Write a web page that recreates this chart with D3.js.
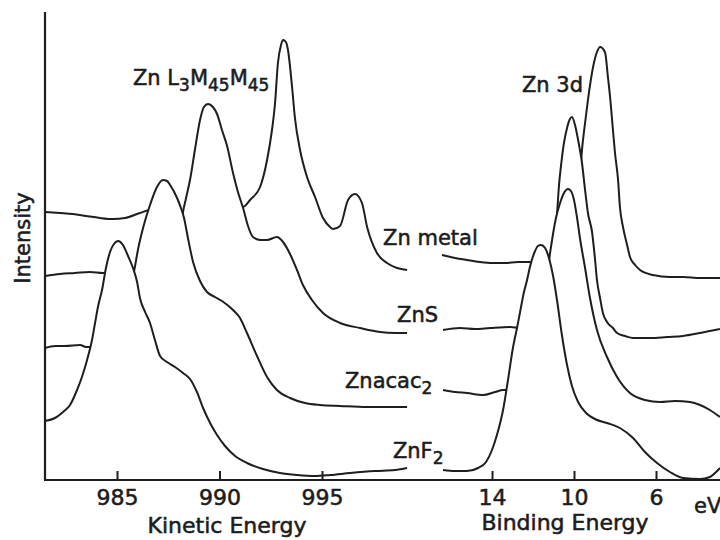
<!DOCTYPE html>
<html>
<head>
<meta charset="utf-8">
<script src="https://cdn.jsdelivr.net/npm/d3@7"></script>
<style>
  body { margin: 0; background: #fff; }
  svg { display: block; }
  text { font-family: "DejaVu Sans", "Liberation Sans", sans-serif; fill: #1c1c1c;
         stroke: #1c1c1c; stroke-width: 0.55px; }
</style>
</head>
<body>
<svg id="chart" width="720" height="540"></svg>
<script>
// Zn L3M45M45 Auger spectra (kinetic energy, eV) and Zn 3d photoelectron spectra
// (binding energy, eV) for four zinc compounds, stacked with vertical offsets.
const kineticTicks = [985, 990, 995];
const bindingTicks = [14, 10, 6];
const sampleNames = ["Zn metal", "ZnS", "Znacac2", "ZnF2"];

// [kinetic energy, intensity]
const kineticZnMetal = [
  [981.49,67],[982.22,66.75],[982.85,66.5],[983.49,66],[984.17,65.5],[984.80,65.25],[985.39,65.5],
  [986.12,66.75],[986.61,67.5],[987.10,67.25],[988.07,66.75],[989.05,67],[990.27,67.5],[991.00,68],
  [991.24,68.5],[991.49,70],[991.98,73.25],[992.32,80],[992.56,87.5],[992.71,94.25],[992.85,104.25],
  [993.00,108.75],[993.10,110],[993.24,109.5],[993.34,107.5],[993.54,98.25],[993.68,90.5],[993.93,82.5],
  [994.27,75.75],[994.66,70.75],[995.05,65.5],[995.39,63.25],[995.54,62.75],[995.88,63.5],[996.27,70],
  [996.61,71.5],[996.95,69.25],[997.20,63.25],[997.68,56.75],[998.17,54.25],[998.66,53],[999.15,52.5]
];
const kineticZnS = [
  [981.49,51],[982.22,51.5],[982.95,51.75],[983.68,52],[984.32,51.75],[985.15,51.75],[986.12,51.5],
  [987.10,51.5],[987.59,53],[987.88,56.25],[988.07,61.25],[988.22,67],[988.37,70.5],[988.56,75],
  [988.80,82.5],[989.05,90],[989.24,93.25],[989.44,94],[989.68,93.25],[989.88,91.5],[990.12,87.5],
  [990.37,83.5],[990.66,76.75],[990.90,72],[991.15,68],[991.39,63.5],[991.63,60.75],[991.98,60],
  [992.32,60],[992.80,60.75],[993.10,59.5],[993.44,56.5],[993.78,52.5],[994.07,48.75],[994.51,45],
  [995.05,41.75],[995.88,39.25],[996.85,38],[997.83,37],[998.56,36.75],[999.15,36.75]
];
const kineticZnacac2 = [
  [981.49,33],[981.98,33.5],[982.46,33.5],[983.20,33.75],[983.49,33.25],[983.93,33.25],[984.41,34.25],
  [984.90,36.25],[985.39,41.25],[985.63,45.5],[985.78,50.75],[985.88,53.5],[986.02,57.5],[986.27,63],
  [986.61,68.75],[986.95,73.25],[987.24,75],[987.44,74.75],[987.59,73.75],[987.93,70.5],[988.12,68],
  [988.27,65.5],[988.46,60.5],[988.71,54.5],[989.05,49.75],[989.39,47],[989.78,45.75],[990.12,44.75],
  [990.66,42.5],[991.00,40.5],[991.34,36.75],[991.83,31],[992.32,25.75],[992.80,22.5],[993.44,20.5],
  [994.17,19.25],[994.90,18.75],[995.88,18.5],[997.20,18.25],[998.32,18.25],[999.15,18.25]
];
const kineticZnF2 = [
  [981.49,14.75],[981.98,15.5],[982.37,17],[982.71,18.75],[983.05,22.5],[983.29,25.75],[983.54,30],
  [983.78,35],[983.93,39.25],[984.07,43.25],[984.27,47.5],[984.46,53],[984.66,57],[984.85,59],
  [985.05,59.75],[985.29,58.75],[985.54,56],[985.78,53],[985.98,49.5],[986.12,45.5],[986.37,42],
  [986.61,39.25],[986.85,35],[987.10,31],[987.44,29.5],[987.83,28.25],[988.22,26.75],[988.56,25.25],
  [988.90,22],[989.20,18],[989.54,14.25],[989.88,11.25],[990.27,8.5],[990.76,6],[991.34,4.25],
  [992.12,2.75],[992.95,1.75],[993.78,1.25],[994.66,1],[995.39,1.25],[996.37,1.75],[997.59,2.25],
  [998.56,2.5],[999.15,3]
];

// [binding energy, intensity]
const bindingZnMetal = [
  [16.44,56.25],[15.80,55.5],[15.22,55],[14.59,54.5],[13.95,54.25],[13.37,54.25],[12.73,54.5],
  [12.24,54.5],[11.66,54.5],[11.07,54.75],[10.59,55.25],[10.20,57],[9.90,63],[9.76,71.25],[9.61,82.5],
  [9.46,89.25],[9.32,95],[9.07,103.25],[8.88,107],[8.73,108.25],[8.49,107],[8.34,100.5],[8.24,95.75],
  [8.10,87.5],[8.00,81.75],[7.85,75],[7.76,68.25],[7.61,63.25],[7.41,58.75],[7.27,55.75],[7.02,53.75],
  [6.78,52.5],[6.15,51.25],[5.32,50.75],[4.68,50.75],[3.85,50.5],[2.88,50.5]
];
const bindingZnS = [
  [16.39,37.5],[15.56,38],[14.83,37.75],[14.10,38],[13.12,38.25],[12.63,38],[11.90,38.25],[11.41,39.5],
  [11.17,45],[11.02,53],[10.93,58.75],[10.83,66.25],[10.73,73.75],[10.63,78.75],[10.49,84.25],
  [10.34,88],[10.20,90.25],[10.10,90.75],[9.95,88.75],[9.80,85],[9.61,79.25],[9.46,72.5],[9.32,66.75],
  [9.12,62],[8.98,55.5],[8.88,50],[8.73,45.5],[8.59,41.75],[8.39,39.5],[8.10,38],[7.90,36.75],
  [7.51,36],[7.12,35.5],[6.29,35.5],[5.46,35.75],[4.68,36],[3.85,36.75],[2.88,37.75]
];
const bindingZnacac2 = [
  [16.39,22.5],[15.80,22],[15.22,21.75],[14.44,21.25],[13.85,22],[13.46,22.5],[12.88,22.5],[12.39,23],
  [11.90,24.5],[11.61,29.5],[11.37,45],[11.22,54.5],[11.07,60],[10.88,65.5],[10.68,69.25],[10.49,71.75],
  [10.29,72.75],[10.15,72.25],[10.00,70],[9.85,65.5],[9.71,60.5],[9.46,53],[9.22,45.5],[8.88,37.5],
  [8.39,30.75],[7.90,25.75],[7.27,21.75],[6.54,20],[5.80,19.5],[5.07,19.75],[4.34,19.5],[3.85,18.75],
  [3.37,17.5],[2.88,15.75]
];
const bindingZnF2 = [
  [16.39,2.5],[15.80,2.25],[15.22,2.25],[14.68,3],[14.29,4.5],[14.00,7.5],[13.76,11.25],[13.46,17.5],
  [13.22,25],[12.98,33],[12.78,38],[12.63,42],[12.44,47],[12.29,50],[12.15,53.25],[11.90,57.25],
  [11.76,58.5],[11.61,58.75],[11.41,58],[11.17,54.5],[11.02,51],[10.83,45],[10.59,36.25],[10.34,28.75],
  [10.10,23.5],[9.80,19.5],[9.41,16.75],[8.98,15.25],[8.39,14.25],[7.76,13],[7.12,10.5],[6.54,7],
  [5.95,4.25],[5.32,2],[4.68,0.5],[3.85,0.25],[3.37,0.75],[3.07,2],[2.88,3]
];

const ink = "#1e1e1e";
const svg = d3.select("#chart");
svg.append("rect").attr("width", 720).attr("height", 540).attr("fill", "#fff");

// Both panels share one eV-per-pixel scale; binding energy runs right to left.
const xKin = d3.scaleLinear().domain([985, 995]).range([117, 322]);
const xBind = d3.scaleLinear().domain([14, 6]).range([492, 656]);
const y = d3.scaleLinear().domain([0, 117]).range([480, 12]);

function drawPanel(x, seriesList) {
  const g = svg.append("g");
  const area = d3.area().x(d => x(d[0])).y0(y(0)).y1(d => y(d[1])).curve(d3.curveMonotoneX);
  const line = d3.line().x(d => x(d[0])).y(d => y(d[1])).curve(d3.curveMonotoneX);
  // back to front: each trace hides whatever lies behind and below it
  seriesList.forEach(data => {
    g.append("path").datum(data).attr("d", area).attr("fill", "#fff");
    g.append("path").datum(data).attr("d", line)
      .attr("fill", "none").attr("stroke", ink).attr("stroke-width", 2)
      .attr("stroke-linejoin", "round");
  });
}
drawPanel(xKin, [kineticZnMetal, kineticZnS, kineticZnacac2, kineticZnF2]);
drawPanel(xBind, [bindingZnMetal, bindingZnS, bindingZnacac2, bindingZnF2]);

// Axes
svg.append("line").attr("x1", 45).attr("x2", 45).attr("y1", y(117)).attr("y2", y(0))
  .attr("stroke", ink).attr("stroke-width", 2.2);
svg.append("line").attr("x1", 44).attr("x2", 720).attr("y1", y(0)).attr("y2", y(0))
  .attr("stroke", ink).attr("stroke-width", 2.2);

function drawAxis(x, ticks) {
  const ax = svg.append("g").attr("transform", `translate(0,${y(0)})`)
    .call(d3.axisBottom(x).tickValues(ticks).tickFormat(d3.format("d"))
      .tickSizeInner(-9).tickSizeOuter(0).tickPadding(9));
  ax.select(".domain").remove();
  ax.selectAll(".tick line").attr("stroke", ink).attr("stroke-width", 2);
  ax.selectAll(".tick text").attr("font-size", 22).attr("fill", ink)
    .style("font-family", "'DejaVu Sans', sans-serif");
}
drawAxis(xKin, kineticTicks);
drawAxis(xBind, bindingTicks);

// Axis titles
const title = (txt, x, yy, size) => svg.append("text").attr("x", x).attr("y", yy)
  .attr("font-size", size).attr("text-anchor", "middle").text(txt);
title("Kinetic Energy", 227, 533, 22);
title("Binding Energy", 565, 530, 22);
svg.append("text").attr("x", 694).attr("y", 513).attr("font-size", 21).text("eV");
svg.append("text").attr("transform", "translate(30,238) rotate(-90)")
  .attr("font-size", 21).attr("text-anchor", "middle").text("Intensity");

// Spectrum labels, placed in data coordinates of each panel
function label(x, e, i, parts) {
  const t = svg.append("text").attr("x", x(e)).attr("y", y(i)).attr("font-size", 21);
  let shift = 0;
  parts.forEach(([s, sub]) => {
    const target = sub ? 6 : 0;
    t.append("tspan").attr("dy", target - shift).attr("font-size", sub ? 17 : 21).text(s);
    shift = target;
  });
}
label(xKin, 985.78, 98.75, [["Zn L", 0], ["3", 1], ["M", 0], ["45", 1], ["M", 0], ["45", 1]]);
label(xBind, 12.54, 97, [["Zn 3d", 0]]);
label(xKin, 997.98, 58.75, [[sampleNames[0], 0]]);
label(xKin, 998.66, 39.5, [[sampleNames[1], 0]]);
label(xKin, 996.12, 23, [["Znacac", 0], ["2", 1]]);
label(xKin, 998.46, 5.5, [["ZnF", 0], ["2", 1]]);
</script>
</body>
</html>
